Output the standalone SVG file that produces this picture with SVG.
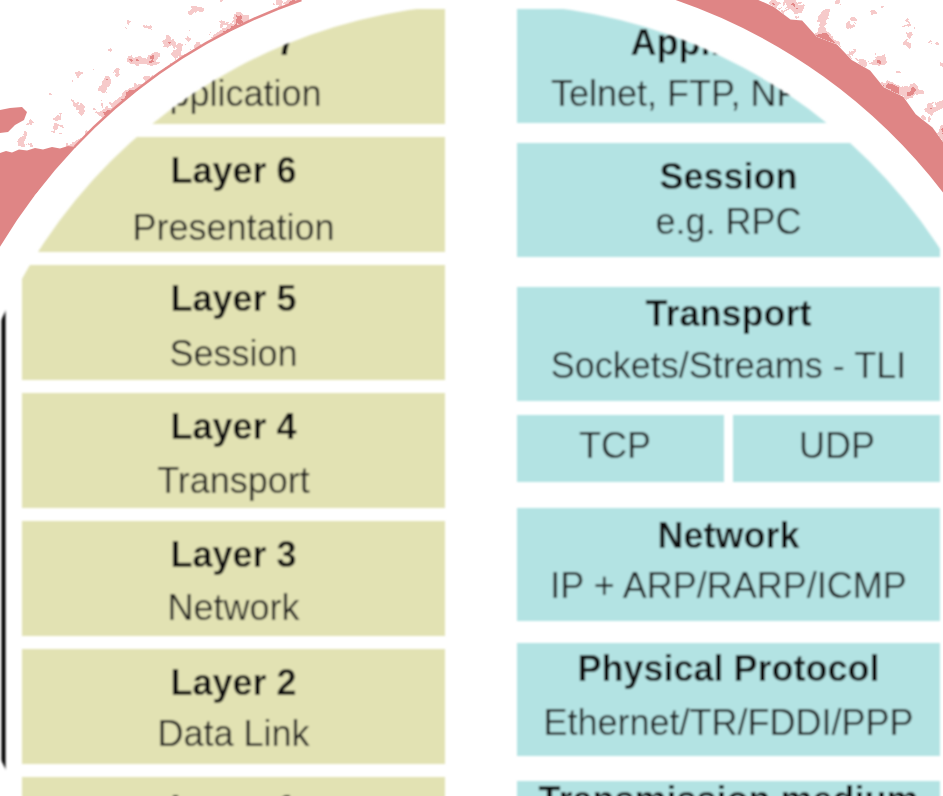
<svg xmlns="http://www.w3.org/2000/svg" width="943" height="796" viewBox="0 0 943 796">
  <defs>
    <style>
      .osi { fill: #e2e2b3; }
      .tcp { fill: #b3e3e3; }
      text { font-family: "Liberation Sans", Arial, Helvetica, sans-serif; font-size: 36px; fill: #1c1c1c; text-anchor: middle; }
      .b { font-weight: bold; fill: #0e0e0e; }
      .band { fill: #df8585; }
    </style>
    <!-- lens that frames the layer diagram -->
    <clipPath id="lens">
      <circle cx="490" cy="540" r="536"/>
    </clipPath>
    <filter id="soft" x="-5%" y="-5%" width="110%" height="110%">
      <feGaussianBlur stdDeviation="0.85"/>
    </filter>
    <!-- density of the paint speckles, strongest next to the ring -->
    <radialGradient id="fadeTL" gradientUnits="userSpaceOnUse" cx="490" cy="540" r="800">
      <stop offset="0.714" stop-color="#000" stop-opacity="0.92"/>
      <stop offset="0.745" stop-color="#000" stop-opacity="0.77"/>
      <stop offset="0.8" stop-color="#000" stop-opacity="0.62"/>
      <stop offset="0.9" stop-color="#000" stop-opacity="0.5"/>
      <stop offset="1" stop-color="#000" stop-opacity="0.4"/>
    </radialGradient>
    <radialGradient id="fadeTR" gradientUnits="userSpaceOnUse" cx="490" cy="540" r="800">
      <stop offset="0.75" stop-color="#000" stop-opacity="0.94"/>
      <stop offset="0.78" stop-color="#000" stop-opacity="0.78"/>
      <stop offset="0.84" stop-color="#000" stop-opacity="0.66"/>
      <stop offset="1" stop-color="#000" stop-opacity="0.52"/>
    </radialGradient>
    <!-- two-tone grunge: noise added to the source alpha, then thresholded -->
    <filter id="grunge" filterUnits="userSpaceOnUse" x="0" y="0" width="943" height="796" color-interpolation-filters="sRGB">
      <feTurbulence type="fractalNoise" baseFrequency="0.06" numOctaves="4" seed="11" result="noise"/>
      <feColorMatrix in="noise" type="matrix" values="0 0 0 0 0  0 0 0 0 0  0 0 0 0 0  1 0 0 0 0" result="na"/>
      <feComposite in="SourceAlpha" in2="na" operator="arithmetic" k1="0" k2="1" k3="1" k4="-0.92" result="s1"/>
      <feComponentTransfer in="s1" result="m1"><feFuncA type="discrete" tableValues="0 1"/></feComponentTransfer>
      <feComposite in="SourceAlpha" in2="na" operator="arithmetic" k1="0" k2="1" k3="1" k4="-1.08" result="s2"/>
      <feComponentTransfer in="s2" result="m2"><feFuncA type="discrete" tableValues="0 1"/></feComponentTransfer>
      <feFlood flood-color="#f6caca" result="c1"/>
      <feComposite in="c1" in2="m1" operator="in" result="l1"/>
      <feFlood flood-color="#e38888" result="c2"/>
      <feComposite in="c2" in2="m2" operator="in" result="l2"/>
      <feMerge><feMergeNode in="l1"/><feMergeNode in="l2"/></feMerge>
    </filter>
  </defs>

  <rect width="943" height="796" fill="#ffffff"/>

  <!-- painted ring around the lens -->
  <g id="ring">
    <path d="M0,0 L304.4,0 A571,571 0 0 0 0,246.8 Z" fill="url(#fadeTL)" filter="url(#grunge)"/>
    <path d="M758.3,0 L943,0 L943,142 L932.5,127.4 L915.7,114.3 L903.3,96.8 L883.7,87.2 L870.1,70.6 L851.7,60 L837,44.4 L816.8,36.8 L802.1,20.5 L790.5,19.5 L773.6,6.7 Z" fill="url(#fadeTR)" filter="url(#grunge)"/>
    <path class="band" d="M0,153 L6,151 L12,152.5 L19,149.5 L27,150.5 L35,148 L43,149.5 L52,147 L60,148.5 L68,146 L75.8,147 A571,571 0 0 0 0,246.8 Z"/>
    <path class="band" d="M0,110 L10,108 L22,107 L27,112 L24,120 L15,125 L8,132 L0,133 Z"/>
    <path d="M74.4,147 A572,572 0 0 1 301.4,0" fill="none" stroke="#e28888" stroke-width="2.5"/>
    <path class="band" d="M675.6,0 L758.3,0 L773.6,6.7 L790.5,19.5 L802.1,20.5 L816.8,36.8 L837,44.4 L851.7,60 L870.1,70.6 L883.7,87.2 L903.3,96.8 L915.7,114.3 L932.5,127.4 L943,142 L943,192.4 A571,571 0 0 0 675.6,0 Z"/>
  </g>

  <!-- layer diagram seen through the lens -->
  <g filter="url(#soft)">
    <g clip-path="url(#lens)">
      <line x1="3.5" y1="290" x2="3.5" y2="790" stroke="#000000" stroke-width="4"/>

      <g id="osi-layer7">
        <rect class="osi" x="22" y="9" width="423" height="115"/>
        <text class="b" x="233.5" y="55">Layer 7</text>
        <text x="233.5" y="106">Application</text>
      </g>
      <g id="osi-layer6">
        <rect class="osi" x="22" y="137" width="423" height="115"/>
        <text class="b" x="233.5" y="183">Layer 6</text>
        <text x="233.5" y="240">Presentation</text>
      </g>
      <g id="osi-layer5">
        <rect class="osi" x="22" y="265" width="423" height="115"/>
        <text class="b" x="233.5" y="311">Layer 5</text>
        <text x="233.5" y="366">Session</text>
      </g>
      <g id="osi-layer4">
        <rect class="osi" x="22" y="393" width="423" height="115"/>
        <text class="b" x="233.5" y="439">Layer 4</text>
        <text x="233.5" y="493">Transport</text>
      </g>
      <g id="osi-layer3">
        <rect class="osi" x="22" y="521" width="423" height="115"/>
        <text class="b" x="233.5" y="567">Layer 3</text>
        <text x="233.5" y="620">Network</text>
      </g>
      <g id="osi-layer2">
        <rect class="osi" x="22" y="649" width="423" height="115"/>
        <text class="b" x="233.5" y="695">Layer 2</text>
        <text x="233.5" y="746">Data Link</text>
      </g>
      <g id="osi-layer1">
        <rect class="osi" x="22" y="777" width="423" height="60"/>
        <text class="b" x="233.5" y="821">Layer 1</text>
      </g>

      <g id="tcpip-application">
        <rect class="tcp" x="517" y="9" width="423" height="114"/>
        <text class="b" x="728.5" y="55">Application</text>
        <text x="551" y="106" style="text-anchor:start">Telnet, FTP, NFS</text>
      </g>
      <g id="tcpip-session">
        <rect class="tcp" x="517" y="143" width="423" height="114"/>
        <text class="b" x="728.5" y="189">Session</text>
        <text x="728.5" y="234">e.g. RPC</text>
      </g>
      <g id="tcpip-transport">
        <rect class="tcp" x="517" y="287" width="423" height="114"/>
        <text class="b" x="728.5" y="326">Transport</text>
        <text x="728.5" y="378">Sockets/Streams - TLI</text>
      </g>
      <g id="tcpip-tcp">
        <rect class="tcp" x="517" y="415" width="207" height="67"/>
        <text x="615" y="458">TCP</text>
      </g>
      <g id="tcpip-udp">
        <rect class="tcp" x="733" y="415" width="207" height="67"/>
        <text x="837" y="458">UDP</text>
      </g>
      <g id="tcpip-network">
        <rect class="tcp" x="517" y="508" width="423" height="113"/>
        <text class="b" x="728.5" y="548">Network</text>
        <text x="728.5" y="598">IP + ARP/RARP/ICMP</text>
      </g>
      <g id="tcpip-physical">
        <rect class="tcp" x="517" y="643" width="423" height="113"/>
        <text class="b" x="728.5" y="681">Physical Protocol</text>
        <text x="728.5" y="735">Ethernet/TR/FDDI/PPP</text>
      </g>
      <g id="tcpip-medium">
        <rect class="tcp" x="517" y="781" width="423" height="60"/>
        <text class="b" x="728.5" y="812">Transmission medium</text>
      </g>
    </g>
  </g>
</svg>
